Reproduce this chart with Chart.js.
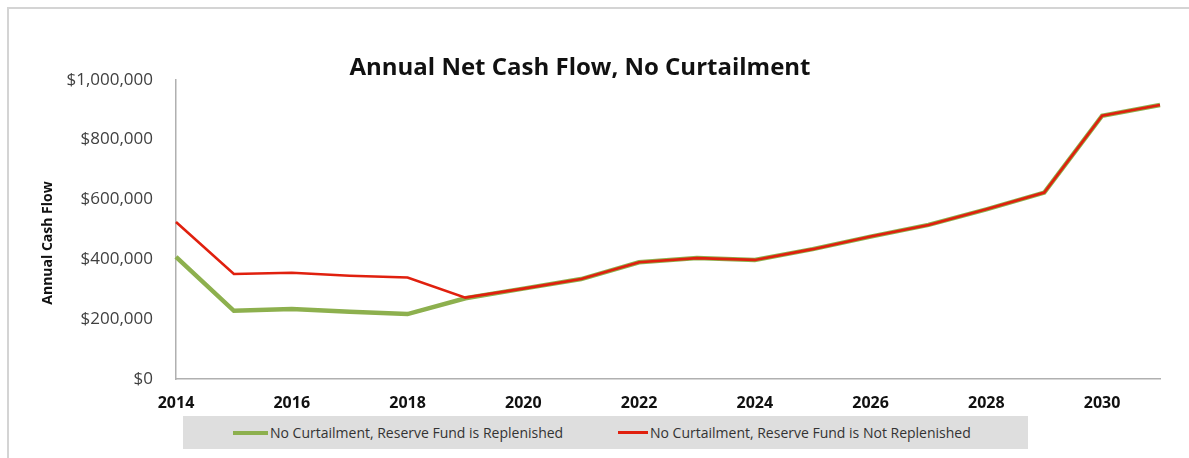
<!DOCTYPE html>
<html>
<head>
<meta charset="utf-8">
<script src="https://cdn.jsdelivr.net/npm/chart.js@4.4.1/dist/chart.umd.min.js"></script>
<style>
  html, body { margin: 0; padding: 0; background: #fff; }
  #wrap { position: relative; width: 1189px; height: 458px; overflow: hidden; }
  #frame { position: absolute; left: 7px; top: 7px; right: -5px; bottom: -5px;
           border-left: 2px solid #d4d4d4; border-top: 2px solid #d4d4d4; pointer-events: none; }
  canvas { position: absolute; left: 0; top: 0; }
  #legend { position: absolute; left: 183px; top: 416px; width: 845px; height: 33px; background: #dedede;
            font-family: "Open Sans", sans-serif; font-size: 14px; color: #333; }
  .item { position: absolute; top: 0; height: 33px; display: flex; align-items: center; white-space: nowrap; }
  .swatch { display: inline-block; margin-right: 2px; }
</style>
</head>
<body>
<div id="wrap">
  <canvas id="c" width="1189" height="458"></canvas>
  <div id="legend"></div>
  <div id="frame"></div>
</div>
<script>
// ---- data ----
const years = ['2014','2015','2016','2017','2018','2019','2020','2021','2022','2023','2024','2025','2026','2027','2028','2029','2030','2031'];
const replenished =    [408000, 228000, 234000, 225000, 217000, 270000, 302000, 334000, 390000, 404000, 398000, 434000, 476000, 515000, 567000, 623000, 880000, 916000];
const notReplenished = [525000, 351000, 355000, 345000, 339000, 272000, 302000, 334000, 390000, 404000, 398000, 434000, 476000, 515000, 567000, 623000, 880000, 916000];
const yTicks = [0, 200000, 400000, 600000, 800000, 1000000];
const seriesNames = ['No Curtailment, Reserve Fund is Replenished', 'No Curtailment, Reserve Fund is Not Replenished'];
const seriesColors = ['#8db04e', '#e0200e'];
const titleText = 'Annual Net Cash Flow, No Curtailment';
const yTitle = 'Annual Cash Flow';

const FONT = '"Open Sans", sans-serif';

// HTML legend built from the series names / colours
(function buildLegend() {
  const lg = document.getElementById('legend');
  const cfg = [
    { left: 50, w: 35, h: 4 },
    { left: 435, w: 30, h: 3 }
  ];
  seriesNames.forEach((name, i) => {
    const it = document.createElement('div');
    it.className = 'item';
    it.style.left = cfg[i].left + 'px';
    const sw = document.createElement('span');
    sw.className = 'swatch';
    sw.style.width = cfg[i].w + 'px';
    sw.style.height = cfg[i].h + 'px';
    sw.style.background = seriesColors[i];
    const tx = document.createElement('span');
    tx.textContent = name;
    it.appendChild(sw); it.appendChild(tx);
    lg.appendChild(it);
  });
})();

const yTitlePlugin = {
  id: 'yTitlePlugin',
  afterDraw(chart) {
    const ctx = chart.ctx;
    ctx.save();
    ctx.translate(48, 243);
    ctx.rotate(-Math.PI / 2);
    ctx.font = 'bold 14px ' + FONT;
    ctx.fillStyle = '#111';
    ctx.textAlign = 'center';
    ctx.textBaseline = 'middle';
    ctx.fillText(yTitle, 0, 0);
    ctx.restore();
  }
};

new Chart(document.getElementById('c'), {
  type: 'line',
  data: {
    labels: years,
    datasets: [
      { label: seriesNames[1], data: notReplenished, borderColor: seriesColors[1], backgroundColor: seriesColors[1],
        borderWidth: 2.6, pointRadius: 0, tension: 0, order: 1 },
      { label: seriesNames[0], data: replenished, borderColor: seriesColors[0], backgroundColor: seriesColors[0],
        borderWidth: 4.5, pointRadius: 0, tension: 0, order: 2 }
    ]
  },
  plugins: [yTitlePlugin],
  options: {
    responsive: false,
    animation: false,
    events: [],
    layout: { padding: { left: 0, right: 29, top: 10, bottom: 43 } },
    plugins: {
      title: {
        display: true, text: titleText, color: '#111',
        font: { family: FONT, size: 24, weight: 'bold' },
        padding: { top: 44, bottom: -3 }
      },
      legend: { display: false },
      tooltip: { enabled: false }
    },
    scales: {
      x: {
        type: 'category',
        offset: false,
        grid: { display: false, drawTicks: true, tickLength: 5, tickColor: '#b0b0b0' },
        border: { display: true, color: '#b0b0b0', width: 1.5 },
        ticks: {
          color: '#111', font: { family: FONT, size: 16, weight: 'bold' },
          maxRotation: 0, autoSkip: false, padding: 10,
          callback: function(v, i) { return i % 2 === 0 ? years[i] : ''; }
        },
        afterFit(s) { s.height = 36; }
      },
      y: {
        min: 0, max: 1000000,
        afterBuildTicks(s) { s.ticks = yTicks.map(v => ({ value: v })); },
        grid: { display: false, drawTicks: true, tickLength: 5, tickColor: '#b0b0b0' },
        border: { display: true, color: '#b0b0b0', width: 1.5 },
        ticks: {
          color: '#404040', font: { family: FONT, size: 17 }, padding: 18,
          callback: v => '$' + Number(v).toLocaleString('en-US')
        },
        afterFit(s) { s.width = 176; }
      }
    }
  }
});
</script>
</body>
</html>
